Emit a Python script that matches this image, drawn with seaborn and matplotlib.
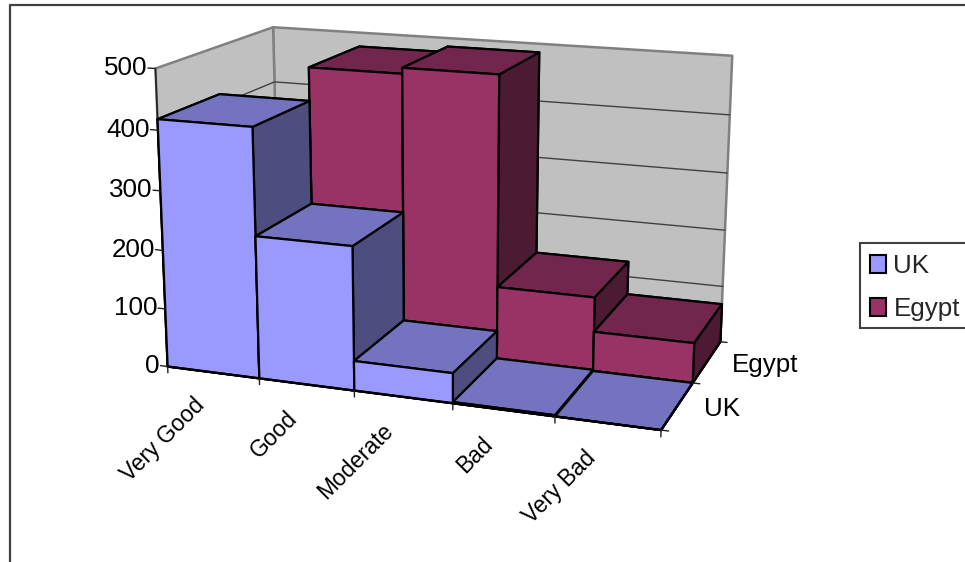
import numpy as np
import matplotlib
matplotlib.use("Agg")
import matplotlib.pyplot as plt
from matplotlib.lines import Line2D
from matplotlib.patches import Patch, Rectangle
from mpl_toolkits.mplot3d import proj3d
from mpl_toolkits.mplot3d.art3d import Poly3DCollection
import seaborn as sns

categories = ["Very Good", "Good", "Moderate", "Bad", "Very Bad"]
series_names = ["UK", "Egypt"]
uk_values = [418, 240, 50, 2, 0]
egypt_values = [200, 475, 485, 127, 68]
value_ticks = [0, 100, 200, 300, 400, 500]

W, H = 965, 562
Z_MAX = value_ticks[-1]
N_CAT, N_SER = len(categories), len(series_names)

sns.set_theme(style="white")
plt.rcParams["font.family"] = ["Liberation Sans", "DejaVu Sans"]
FONT = 18.7
CAT_FONT = 16.4
palette = sns.color_palette(["#9999FF", "#993366"])
WALL, WALL_EDGE, GRID = "#C0C0C0", "#808080", "#404040"


def shaded(rgb, k):
    return tuple(c * k for c in rgb)


# Oblique camera: box positions (category, series, value) and their canvas spots.
box_points = np.array([
    (0, 0, 0), (1, 0, 0), (2, 0, 0), (3, 0, 0), (4, 0, 0), (5, 0, 0),
    (0, 0, 100), (0, 0, 200), (0, 0, 300), (0, 0, 400), (0, 0, 500),
    (5, 1, 0), (3, 1, 0), (4, 1, 0),
    (5, 2, 0), (5, 2, 100), (5, 2, 200), (5, 2, 300), (5, 2, 400), (5, 2, 500),
    (0, 2, 400), (0, 2, 500),
], dtype=float)
canvas_points = np.array([
    (168.3, 366.7), (260, 379), (354, 391), (452.3, 402.3), (554, 415.7), (662.3, 430.7),
    (165, 309), (162, 250.7), (159.5, 191), (157.5, 130.7), (156.7, 69),
    (692.3, 382.7), (496.7, 357.3), (595, 370),
    (720.7, 343.3), (721.7, 287.3), (725, 231), (727, 172.7), (729.3, 115), (732.7, 55),
    (274, 81.7), (274, 26.7),
])


def solve_camera(world, px):
    """Direct linear transform from box coordinates to y-up canvas pixels."""
    rows, rhs = [], []
    for (x, y, z), (u, v) in zip(world, px):
        v = H - v
        rows.append([x, y, z, 1, 0, 0, 0, 0, -u * x, -u * y, -u * z])
        rhs.append(u)
        rows.append([0, 0, 0, 0, x, y, z, 1, -v * x, -v * y, -v * z])
        rhs.append(v)
    sol = np.linalg.lstsq(np.array(rows), np.array(rhs), rcond=None)[0]
    return np.append(sol, 1.0).reshape(3, 4)


P = solve_camera(box_points, canvas_points)
# Depth row gives -1/w, so faces sort by true distance from the camera.
camera = np.vstack([P[0], P[1], [0, 0, 0, -1.0], P[2]])

fig = plt.figure(figsize=(W / 100, H / 100), dpi=100, facecolor="white")
ax = fig.add_axes([0, 0, 1, 1], projection="3d", computed_zorder=False)
ax.set_proj_type("ortho")
ax.get_proj = lambda: camera
ax.apply_aspect = lambda position=None: None
ax.set_axis_off()
ax.patch.set_visible(False)
ax.viewLim.set_points(np.array([[0.0, 0.0], [W, H]]))


def label(x, y, z, text, size=FONT, **kwargs):
    """Place a text at a box position, keeping its own screen rotation."""
    u, v, _ = proj3d.proj_transform(x, y, z, camera)
    ax.text2D(float(u), float(v), text, transform=ax.transData, fontsize=size,
              color="black", zorder=TOP, **kwargs)


# Walls and floor of the plot box
walls = [
    [(0, 0, 0), (0, N_SER, 0), (0, N_SER, Z_MAX), (0, 0, Z_MAX)],
    [(0, N_SER, 0), (N_CAT, N_SER, 0), (N_CAT, N_SER, Z_MAX), (0, N_SER, Z_MAX)],
    [(0, 0, 0), (N_CAT, 0, 0), (N_CAT, N_SER, 0), (0, N_SER, 0)],
]
wall_col = Poly3DCollection(walls, facecolors=WALL, edgecolors=WALL_EDGE, linewidths=1.8)
ax.add_collection3d(wall_col, autolim=False)
wall_col.set_zorder(1)

# Gridlines run along the side wall and then the back wall
for tick in value_ticks[1:-1]:
    ax.plot([0, 0, N_CAT], [0, N_SER, N_SER], [tick, tick, tick],
            color=GRID, lw=1.0, zorder=2)

# Bars: back row first, left to right, so nearer bars paint over farther ones
rows = [(1, egypt_values, palette[1]), (0, uk_values, palette[0])]
zorder = 3
for row, values, colour in rows:
    top, side = shaded(colour, 0.75), shaded(colour, 0.5)
    for i, value in enumerate(values):
        # Face order in bar3d: bottom, top, front, back, left, right
        faces = [top, top, colour, colour, side, side]
        ax.bar3d(i, row, 0, 1, 1, value, color=faces, shade=False,
                 edgecolor="black", linewidth=1.6, zorder=zorder)
        zorder += 1

# Axis lines and tick marks
AXIS = "#202020"
TOP = zorder + 1
ax.plot([0, 0], [0, 0], [0, Z_MAX], color=AXIS, lw=1.2, zorder=2)
ax.plot([0, N_CAT], [0, 0], [0, 0], color="black", lw=1.6, zorder=TOP)
ax.plot([N_CAT, N_CAT], [0, N_SER], [0, 0], color="black", lw=1.4, zorder=TOP)
for tick in value_ticks:
    ax.plot([-0.08, 0], [0, 0], [tick, tick], color=AXIS, lw=1.0, zorder=TOP)
    label(-0.085, 0, tick, str(tick), ha="right", va="center")
for i in range(N_CAT + 1):
    ax.plot([i, i], [0, 0], [0, -11], color=AXIS, lw=1.0, zorder=TOP)
for j in range(N_SER + 1):
    ax.plot([N_CAT, N_CAT + 0.07], [j, j], [0, 0], color=AXIS, lw=1.0, zorder=TOP)

for i, name in enumerate(categories):
    label(i + 0.36, 0, -55, name, size=CAT_FONT, rotation=45, rotation_mode="anchor",
          ha="right", va="center")
for j, name in enumerate(series_names):
    label(N_CAT + 0.25, j + 0.5, 0, name, ha="left", va="center")

# Legend frame runs off the right edge of the canvas
fig.add_artist(Rectangle((860 / W, 1 - 328 / H), 120 / W, 85 / H,
                         transform=fig.transFigure, facecolor="white",
                         edgecolor="#404040", linewidth=1.5))
handles = [Patch(facecolor=c, edgecolor="black", linewidth=1.5) for c in palette]
fig.legend(handles, series_names, loc="upper left",
           bbox_to_anchor=(870 / W, 1 - 254 / H), borderaxespad=0, borderpad=0,
           fontsize=FONT, frameon=False, handlelength=0.62, handleheight=0.68,
           handletextpad=0.28, labelspacing=0.72)

# Chart-area outline: only the left and top sides fall on the canvas
fig.add_artist(Line2D([10 / W, 10 / W, 1], [0, 1 - 5 / H, 1 - 5 / H],
                      transform=fig.transFigure, color="#404040", lw=1.6))

fig.savefig("out.png", dpi=100)
